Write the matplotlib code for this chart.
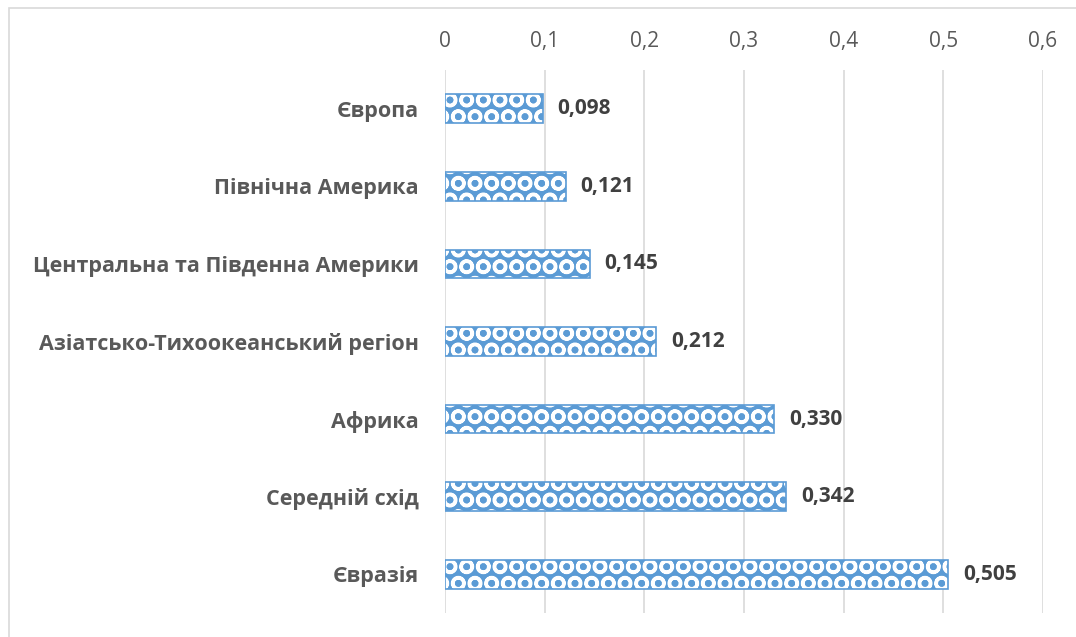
import matplotlib.pyplot as plt
from matplotlib.patches import Rectangle

# data
regions = ["Європа", "Північна Америка", "Центральна та Південна Америки",
           "Азіатсько-Тихоокеанський регіон", "Африка", "Середній схід", "Євразія"]
values = [0.098, 0.121, 0.145, 0.212, 0.330, 0.342, 0.505]
xticks = [0, 0.1, 0.2, 0.3, 0.4, 0.5, 0.6]

blue = "#5B9BD5"
grey = "#595959"
plt.rcParams["font.family"] = ["Open Sans", "DejaVu Sans"]
plt.rcParams["hatch.linewidth"] = 2.4

fig = plt.figure(figsize=(10.76, 6.37), dpi=100)
ax = fig.add_axes([445 / 1076, 1 - 613 / 637, 598 / 1076, 543 / 637])

# outer frame (top and left edges visible)
fig.patches.append(Rectangle((9 / 1076, -0.1), 1.2, 1 - 8 / 637 + 0.1,
                             transform=fig.transFigure, fill=False,
                             edgecolor="#D9D9D9", linewidth=1.2))

y = list(range(len(regions)))
ax.barh(y, values, height=0.37, color=blue, edgecolor="white", hatch="O",
        linewidth=0, zorder=2)
ax.barh(y, values, height=0.37, fill=False, edgecolor=blue, linewidth=1.2, zorder=3)

for yi, v in zip(y, values):
    ax.text(v + 0.015, yi, f"{v:.3f}".replace(".", ","), va="center", ha="left",
            fontsize=15, fontweight="bold", color="#404040")

ax.set_xlim(0, 0.6)
ax.set_ylim(len(regions) - 0.5, -0.5)
ax.set_xticks(xticks)
ax.set_xticklabels([("%g" % t).replace(".", ",") for t in xticks], fontsize=15, color=grey)
ax.xaxis.tick_top()
ax.tick_params(axis="x", length=0, pad=13)
ax.set_yticks(y)
ax.set_yticklabels(regions, fontsize=15.5, fontweight="bold", color=grey)
ax.tick_params(axis="y", length=0, pad=19)
ax.grid(axis="x", color="#D9D9D9", linewidth=1.2, zorder=0)
ax.set_axisbelow(True)
for s in ax.spines.values():
    s.set_visible(False)

fig.savefig("out.png", dpi=100)
